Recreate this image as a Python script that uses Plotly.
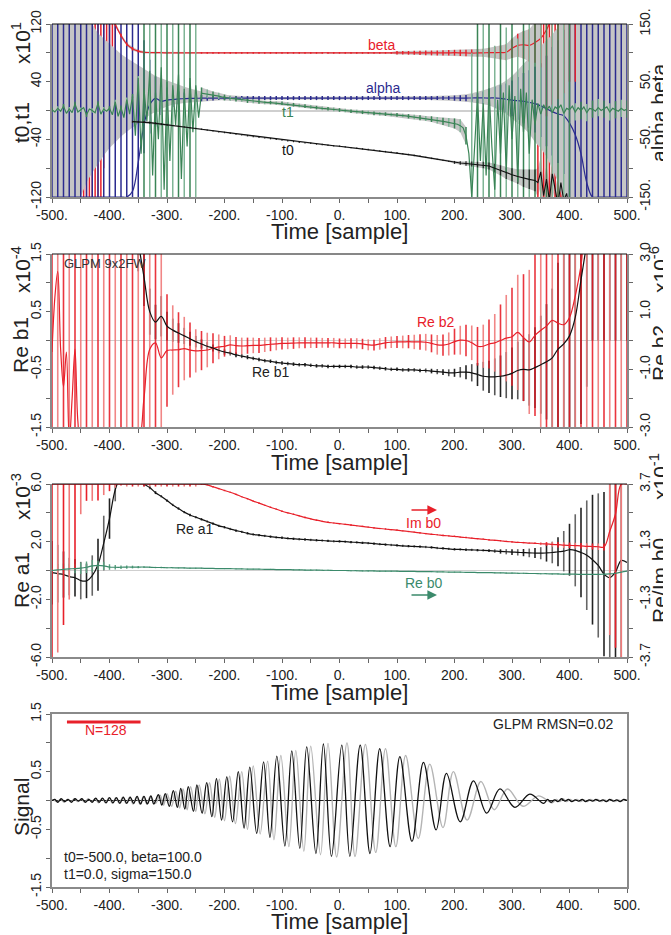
import plotly.graph_objects as go

# The page body adds an 8px margin, so the figure is laid out in screen pixels minus that offset.
SCREEN_W, SCREEN_H = 671, 935
OFF = 8
FW, FH = SCREEN_W - OFF, SCREEN_H - OFF
FONT = "Liberation Sans, Arial, Helvetica, sans-serif"
RED = "#e8202a"; RED_L = "#f07a7a"; BLUE = "#2b2b8f"; GREEN = "#3a8456"; GREEN_L = "#7fb596"
TEAL = "#3b8a6b"; BAND = "#c6c6c6"; AXIS = "#8a8a8a"; ZERO = "#cfcfcf"

# ---------------- axes / ticks ----------------
XTICK_VALS = [-500,-450,-400,-350,-300,-250,-200,-150,-100,-50,0,50,100,150,200,250,300,350,400,450,500]
XTICK_TEXT = ['-500.','','-400.','','-300.','','-200.','','-100.','','0.','','100.','','200.','','300.','','400.','','500.']
P1_L_TICKS = [-120,-80,-40,0,40,80,120];   P1_L_TEXT = ['-120','','-40','','40','','120']
P1_R_TICKS = [-150,-100,-50,0,50,100,150]; P1_R_TEXT = ['-150.','','-50.','','50.','','150.']
P2_L_TICKS = [-1.5,-1,-0.5,0,0.5,1,1.5];   P2_L_TEXT = ['-1.5','','-0.5','','0.5','','1.5']
P2_R_TICKS = [-3,-2,-1,0,1,2,3];           P2_R_TEXT = ['-3.0','','-1.0','','1.0','','3.0']
P3_L_TICKS = [-6,-4,-2,0,2,4,6];           P3_L_TEXT = ['-6.0','','-2.0','','2.0','','6.0']
P3_R_TICKS = [-3.75,-2.5,-1.25,0,1.25,2.5,3.75]; P3_R_TEXT = ['-3.7','','-1.3','','1.3','','3.7']
P4_TICKS = [-1.5,-1,-0.5,0,0.5,1,1.5];     P4_TEXT = ['-1.5','','-0.5','','0.5','','1.5']

T10 = list(range(-500, 501, 10))
T5 = list(range(-500, 501, 5))

# ---------------- Panel 1 : t0,t1 (left, x10^1) ; alpha,beta (right) ----------------
ALPHA = [-150,-150,-150,-150,-150,-150,-150,-150,-150,-150,-150,-150,-150,-150,
         -140,-90,-25,10,21,16,18,19,20,20.5,
         21.0,21.2,21.3,21.4,21.5,21.5,21.6,21.6,21.5,21.5,
         21.5,21.4,21.4,21.5,21.5,21.5,21.4,21.4,21.4,21.5,
         21.5,21.5,21.4,21.4,21.4,21.4,21.5,21.5,21.5,21.5,
         21.4,21.4,21.4,21.5,21.5,21.5,21.5,21.6,21.6,21.6,
         21.5,21.5,21.5,21.6,21.7,21.7,21.7,21.6,21.6,21.7,
         21.8,21.8,
         21.5,22,21,19.5,18,17,16,14,12,8,3,-2,-6,-9,-22,-42,-75,-125,
         -150,-150,-150,-150,-150,-150,-150]
ALPHA_BAR_HI = [200,200,200,200,200,200,200,200,200,200,200,200,200,200,200,
                160,122,88,59,45,40,36,33,31,29,28,27,26,25,24.5,24,
                25,25,25,25,25,25,25,25,25,25,25,25,25,25,25,25,25,25,25,25,
                25,25,25,25,25,25,25,25,25,25,25,25,25,25,25,25,25,25,25,
                26,26.5,27,28,30,33,38,41,44,47,52,58,65,70,76,82,95,110,122,140,
                200,200,200,200,200,200,200,200,200,200,200]
ALPHA_BAR_LO = [-200,-200,-200,-200,-200,-200,-200,-200,-200,-200,-200,-200,-200,-200,-200,
                -150,-74,-40,-28,-8,0,6,10,12,14,15,16,17,17.5,18,18.5,
                18,18,18,18,18,18,18,18,18,18,18,18,18,18,18,18,18,18,18,18,
                18,18,18,18,18,18,18,18,18,18,18,18,18,18,18,18,18,18,18,
                17,16.5,16,15,13,11,8,4,1,-3,-10,-16,-22,-30,-38,-46,-62,-78,-91,-110,
                -200,-200,-200,-200,-200,-200,-200,-200,-200,-200,-200]
ALPHA_BAND_HI = [300,300,300,300,300,200,170,150,134,125,116,107,98,91,85,78,72,66,60,56,
                 52,48,44,41,38,35,33,31,29,28,27,26,25.5,25,24.5,24,
                 23.5,23.5,23.5,23.5,23.5,23.5,23.5,23.5,23.5,23.5,23.5,23.5,23.5,
                 23.5,23.5,23.5,23.5,23.5,23.5,23.5,23.5,23.5,23.5,23.5,23.5,
                 24,24,24,24.5,24.5,25,25,25.5,26,26.5,27,28,30,32,35,38,42,46,52,60,
                 70,82,92,102,112,122,132,145,160,
                 300,300,300,300,300,300,300,300,300,300,300]
ALPHA_BAND_LO = [-300,-300,-300,-300,-160,-150,-125,-108,-92,-78,-65,-55,-45,-37,-30,-22,-15,-8,-2,3,
                 7,10,12,13,14,15,16,16.5,17,17.5,18,18.5,18.5,18.5,18.5,19,
                 19.5,19.5,19.5,19.5,19.5,19.5,19.5,19.5,19.5,19.5,19.5,19.5,19.5,
                 19.5,19.5,19.5,19.5,19.5,19.5,19.5,19.5,19.5,19.5,19.5,19.5,
                 19,19,19,18.5,18.5,18,18,17.5,17,16.5,16,15,14,13,11,9,5,0,-6,-14,
                 -22,-30,-40,-55,-65,-80,-100,-125,-160,
                 -300,-300,-300,-300,-300,-300,-300,-300,-300,-300,-300]
BETA = [200,200,200,200,200,200,200,200,200,200,200,
        150,130,115,107,103,101,
        100.5,100.3,100.2,100.0,100.0,100.1,100.0,99.9,100.0,100.0,
        100.0,100.0,99.9,99.9,100.0,100.0,100.0,100.0,100.1,100.0,
        100.0,100.0,100.0,99.9,99.9,100.0,100.0,100.0,100.0,100.0,
        100.1,100.1,100.0,100.0,100.0,100.0,100.0,99.9,100.0,100.0,
        100.0,100.0,100.1,100.0,100.0,100.0,100.0,100.0,99.9,99.8,
        99.8,99.9,100.0,100.2,100.0,99.8,99.6,99.8,100.0,100.2,
        100.4,100.6,
        101,108,113,114,113,118,125,140,160,170,180,
        200,200,200,200,200,200,200,200,200,200,200]
BETA_ERR = [0,0,0,0,0,0,0,0,0,0,0,
            3,3,3,3,2.5,2,
            1.5,1.5,1.5,1.5,1.5,1.5,1.5,1.5,1.5,1.5,
            1.5,1.5,1.5,1.5,1.5,1.5,1.5,1.5,1.5,1.5,
            1.5,1.5,1.5,1.5,1.5,1.5,1.5,1.5,1.5,1.5,
            1.5,1.5,1.5,1.5,1.5,1.5,1.5,1.5,1.5,1.5,
            1.5,1.5,1.5,
            3,3,3.2,3.4,3.6,4,4.2,4.4,4.6,4.8,5,5.3,5.6,6,6.5,7,8.5,10,12,14,17,20,24,28,35,50,
            150,150,150,150,150,150,0,0,0,0,0,0,0,0,0]
BETA_X_EXTRA = [-445,-440,-435,-430,-425,-420,-415,-410,-405,-400,-395,-390,
                345,350,355,360,365,370,375,380,385,390,395,400,405,410]
BETA_LO_EXTRA = [-200,-200,-200,-200,-200,-200,-200,-100,-40,20,60,90,
                 -200,-200,-200,-200,-200,-200,-200,-200,-200,-200,-200,-200,-200,-200]
BETA_HI_EXTRA = [200,200,200,200,200,200,200,200,200,200,200,200,
                 200,200,200,200,200,200,200,200,200,200,200,200,200,200]

T1 = ([1,-2,3,-1,6,-4,2,-3,9,-2,1,4,-6,2,0,-3,10,-5,2,-1] +
      [3,-6,12,-8,4,-10,15,-5] +
      [20,-35,45,-60,30,-15,55,-90,25,-40,60,-110,40,-70,35,-20,50,-95,30,-50,45,-30,35,-10] +
      [24,23.5,23,22.3,21.5,20.8,20,19,18,17.5,17,16.5,16,15.5,15,14,13.5,13.2,13,12.5,
       12,11.5,11,11,11,10.5,10,10,10,9.5,9,8.5,8,7.5,7,6.5,6,5.5,5,4.5,4,3.5,3,2.7,2.5,2,1.5,1] +
      [0.7,0.3,0,-0.5,-1,-1.2,-1.5,-2,-2.5,-2.8,-3,-3.5,-4,-4.2,-4.5,-4.8,-5,-5.2,-5.5,-5.8,
       -6,-6.5,-7,-7.5,-8,-8.5,-9,-9.5,-10,-10.5,-11,-11.5,-12,-12.8,-13.5,-14.2,-15,-15.8,-16.5,-17.2,
       -18,-19,-21,-24,-35,-60] +
      [-120,-40,20,-70,10,-90,30,-50,-110,15,-60,25,-85,35,-40,20,-100,30,-30,25,
       -60,15,-20,10,-5,8,0,6,-3,5,2,8,-4,3,1,6,-2,4,0,5,-3,3,2,-1,4,0,2,5,-2,3,1,-1,3,0,2])
T1_ERR = ([3,3,3,3,3,3,3,3,3,3,3,3,3,3,3,3] +
          [200,200,200,200,200,200,200,200,200,200] +
          [8,6,5,4.5,4,3.5,3.5,3,3,3] +
          [2.5,2.5,2.5,2.5,2.5,2.5,2.5,2.5,2.5,2.5,2.5,2.5,2.5,2.5] +
          [2.5,2.5,2.5,2.5,2.5,2.5,2.5,2.5,2.5,2.5,2.5] +
          [2.5,3,3,3.5,3.5,4,4.5,5,6,7,9,12] +
          [200,200,200,200,200,200,200,200,200,200,200,200,200,200,200,200,200,200] +
          [12,12,12,12,12,12,12,12,12,12])
T0_T = list(range(-360, 341, 10)) + list(range(345, 421, 5))
T0 = [-15.5,-15.6,-16,-16.8,-17.8,-19,-20,-21,-22,-23,
      -24,-25,-26,-27.2,-28.3,-29.4,-30.5,-31.6,-32.7,-33.8,
      -34.9,-36,-37,-38,-39,-40,-41,-42,-43,-44,
      -44.8,-45.5,-46.5,-47.3,-48.2,-49,-49.5,-50.5,-51.5,-52.3,
      -53.2,-54,-55,-56,-57,-58,-58.5,-59.8,-61,-62.3,
      -63.6,-65,-66.4,-67.8,-69.2,-70.6,-72,-72.8,-73.5,-74.2,
      -75,-75.6,-77,-80,-83,-87,-89,-91.5,-94,-95.5,
      -97,
      -100,-85,-118,-95,-125,-88,-110,-130,-100,-125,-115,-140,-120,-150,-130,-160]
T0_ERR = [1.5,1.5,1.5,1.5,1.5,1.5,1.5,
          1,1,1,1,1,1,1,1,1,1,
          1,1,1,1,1,1,1,1,1,1,
          1,1,1,1,1,1,1,1,1,1,
          1,1,1,1,1,1,1,1,1,1,
          1,1,1,1,1,1,1,1,1,
          2,2.5,3,3.5,4,4.5,5,6,7,8,9,10,12,13.5,15,
          20,20,20,20,20,20,20,20,20,20,20,20,20,20,20,20]

# ---------------- Panel 2 : Re b1 (left, x10^-4) ; Re b2 (right, x10^-6) ----------------
RB1 = [None,None,None,None,None,None,None,None,None,None,None,None,None,None,None,
       1.7,1.1,0.5,0.32,0.42,0.25,0.18,0.13,0.08,0.03,
       -0.02,-0.06,-0.1,-0.13,-0.17,-0.2,-0.22,-0.25,-0.27,-0.29,
       -0.31,-0.33,-0.35,-0.36,-0.38,-0.39,-0.4,-0.41,-0.42,-0.42,
       -0.43,-0.44,-0.44,-0.45,-0.45,-0.45,-0.45,-0.45,-0.46,-0.46,
       -0.46,-0.47,-0.48,-0.49,-0.5,-0.5,-0.51,-0.51,-0.51,-0.52,
       -0.52,-0.53,-0.54,-0.55,-0.56,-0.56,-0.55,-0.55,-0.56,-0.59,
       -0.62,-0.63,-0.63,-0.62,-0.6,-0.57,-0.52,-0.5,-0.51,-0.47,
       -0.42,-0.37,-0.3,-0.15,-0.06,0.08,0.4,1.05,1.7,2.5,
       2.5,2.5,2.5,2.5,2.5,2.5]
RB1_ERR = [None,None,None,None,None,None,None,None,None,None,None,None,None,None,None,
           0.5,0.5,0.4,0.3,0.35,0.25,0.2,0.17,0.14,0.12,
           0.1,0.08,0.07,0.06,0.05,0.045,0.04,0.04,0.035,0.035,
           0.03,0.03,0.03,0.03,0.03,0.03,0.03,0.03,0.03,0.03,
           0.03,0.03,0.03,0.03,0.03,0.03,0.03,0.03,0.03,0.03,
           0.03,0.03,0.03,0.03,0.03,0.03,0.03,0.03,0.03,0.03,
           0.035,0.04,0.045,0.05,0.06,0.07,0.09,0.12,0.15,0.2,
           0.25,0.28,0.32,0.36,0.4,0.45,0.5,0.55,0.62,0.7,
           0.85,1.0,1.2,1.5,2.5,2.5,2.5,2.5,2.5,2.5,
           2.5,2.5,2.5,2.5,2.5,2.5]
RB2_T = [-500,-495,-490,-485,-480,-475,-470,-465,-460,-455,-450] + list(range(-440, 501, 10))
RB2 = ([-0.4,1.5,2.4,-0.3,-1.6,-0.4,-3.5,-2.0,-0.3,-2.8,-3.5] +
       [-3.5,-3.5,-3.5,-3.5,-3.5,-3.5,-3.5,-3.5,-3.5,-3.5] +
       [-2.0,-0.3,-0.08,-0.6,-0.35,-0.33,-0.32,-0.28,-0.33,-0.36,
        -0.35,-0.33,-0.27,-0.22,-0.2,-0.15,-0.18,-0.19,-0.18,-0.17,
        -0.17,-0.15,-0.13,-0.12,-0.1,-0.1,-0.09,-0.08,-0.08,-0.08,
        -0.08,-0.08,-0.08,-0.08] +
       [-0.1,-0.1,-0.1,-0.1,-0.12,-0.15,-0.16,-0.12,-0.08,-0.06,
        -0.05,-0.05,-0.04,-0.05,-0.05,-0.06,-0.1,-0.15,-0.16,-0.12,
        -0.04,0.01,0.0,-0.08,-0.2,-0.2,-0.12,-0.08,0.0,0.08,
        0.13,0.28,0.1,-0.05,0.18,0.35,0.5,0.7,0.6,0.55,
        0.8,1.55,2.6] +
       [4,4,4,4,4,4,4,4])
RB2_ERR = ([10,10,10,10,10,10,10,10,10,10,10,10,10,10,10,10,10,10,10,10] +
           [1.95,1.55,1.3,1.1,0.95,0.75,0.68,0.6,0.52,0.43,
            0.36,0.33,0.3,0.29,0.28,0.27,0.26,0.25,0.24,0.22,
            0.21,0.2,0.2,0.19,0.19,0.18,0.18,0.17,0.17,0.17,
            0.17,0.17,0.18,0.18,0.18,0.19,0.19,0.2,0.2,0.2,
            0.21,0.22,0.23,0.25,0.27,0.29,0.31,0.34,0.37,0.4,
            0.45,0.5,0.55,0.6,0.67,0.75,0.85,1.0,1.25,1.5,
            1.7,2.0,2.2,2.5,2.8] +
           [10,10,10,10,10,10,10,10,10,10,10,10,10,10,10,10])

# ---------------- Panel 3 : Re a1 (left, x10^-3) ; Re/Im b0 (right, x10^-1) ----------------
RA1 = [-0.15,-0.22,-0.28,-0.42,-0.5,-0.7,-0.72,-0.35,0.4,1.9,
       3.6,5.6,6.5,6.6,6.5,6.25,6.0,5.75,5.4,5.15,
       4.85,4.55,4.3,4.05,3.85,3.7,3.55,3.4,3.25,3.1,
       3.0,2.88,2.77,2.68,2.58,2.5,2.45,2.4,2.35,2.3,
       2.27,2.23,2.2,2.17,2.15,2.12,2.1,2.08,2.05,2.03,
       2.02,2.0,1.97,1.95,1.92,1.9,1.87,1.83,1.8,1.77,
       1.74,1.71,1.69,1.67,1.65,1.63,1.6,1.56,1.53,1.5,
       1.47,1.46,1.44,1.43,1.41,1.4,1.38,1.35,1.32,1.3,
       1.28,1.26,1.24,1.22,1.21,1.2,1.22,1.25,1.3,1.34,
       1.44,1.4,1.25,1.06,0.75,0.35,-0.25,-0.5,-0.1,0.7,
       0.55]
RA1_ERR = [2.2,2.0,1.6,1.3,1.3,1.3,1.2,1.4,1.8,1.9,
           1.4,0.8,0.5,0.35,0.25,0.2,0.15,0.12,0.1,0.08,
           0.08,0.08,0.08,0.08,0.08,0.08,0.08,0.08,0.08,0.08,
           0.08,0.08,0.08,0.08,0.08,0.08,0.08,0.08,0.08,0.08,
           0.08,0.08,0.08,0.08,0.08,0.08,0.08,0.08,0.08,0.08,
           0.08,0.08,0.08,0.08,0.08,0.08,0.08,0.08,0.08,0.08,
           0.08,0.08,0.08,0.08,0.08,0.08,0.08,0.08,0.08,0.08,
           0.08,0.08,0.08,0.08,0.08,0.08,0.1,0.12,0.15,0.18,
           0.2,0.22,0.25,0.3,0.35,0.42,0.6,0.75,1.0,1.4,
           1.8,2.5,3.1,3.8,4.5,5.0,5.7,6.5,7.0,7.5,
           0]
IMB0 = [3.74,3.74,3.74,3.74,3.74,3.74,3.74,3.74,3.74,3.74,3.74,3.74,3.74,3.74,
        3.74,3.74,3.74,3.74,3.74,3.74,3.74,3.74,3.74,3.74,3.74,3.74,3.74,
        3.71,3.63,3.55,3.47,3.39,3.3,3.2,3.11,3.01,2.92,
        2.83,2.74,2.66,2.57,2.5,2.44,2.37,2.3,2.24,2.18,
        2.13,2.09,2.06,2.03,2.0,1.97,1.94,1.91,1.88,1.85,
        1.82,1.8,1.77,1.75,1.72,1.69,1.66,1.63,1.6,1.57,
        1.55,1.52,1.5,1.48,1.45,1.43,1.4,1.38,1.36,1.33,
        1.31,1.29,1.26,1.24,1.22,1.21,1.19,1.18,1.16,1.15,
        1.13,1.12,1.1,1.09,1.08,1.07,1.05,1.04,1.03,1.02,
        1.7,2.45,3.74,3.74]
IMB0_ERR = [8.0,7.3,6.1,5.0,3.7,1.3,0.72,0.72,0.7,0.47,0.3,0.15,0.05,
            0.1,0.1,0.1,0.1,0.1,0.1,0.1,0.1,0.1,0.1,0.1,0.1,0.1,
            0.03,0.03,0.03,0.03,0.03,0.03,0.03,0.03,0.03,0.03,
            0.03,0.03,0.03,0.03,0.03,0.03,0.03,0.03,0.03,0.03,
            0.03,0.03,0.03,0.03,0.03,0.03,0.03,0.03,0.03,0.03,
            0.03,0.03,0.03,0.03,0.03,0.03,0.03,0.03,0.03,0.03,
            0.03,0.03,0.03,0.03,0.03,0.03,0.03,0.03,0.03,0.03,
            0.03,0.03,0.03,0.03,0.03,0.03,0.03,0.03,0.03,
            0.06,0.08,0.1,0.12,0.12,0.12,0.12,0.12,0.13,0.13,0.14,0.15,4.5,5.8,7.8,0]
REB0 = [0.0,0.03,0.05,0.07,0.08,0.1,0.14,0.2,0.22,0.2,
        0.15,0.14,0.14,0.15,0.15,0.15,0.15,0.14,0.13,0.13,
        0.12,0.12,0.11,0.11,0.1,0.1,0.1,0.09,0.09,0.08,
        0.08,0.08,0.07,0.07,0.06,0.06,0.06,0.05,0.05,0.04,
        0.04,0.04,0.03,0.03,0.02,0.02,0.02,0.01,0.01,0.0,
        0.0,0.0,-0.01,-0.01,-0.02,-0.02,-0.02,-0.03,-0.03,-0.03,
        -0.03,-0.04,-0.04,-0.04,-0.05,-0.05,-0.05,-0.06,-0.06,-0.07,
        -0.07,-0.07,-0.08,-0.08,-0.09,-0.09,-0.09,-0.1,-0.1,-0.11,
        -0.11,-0.12,-0.12,-0.13,-0.13,-0.14,-0.14,-0.15,-0.15,-0.16,
        -0.16,-0.16,-0.17,-0.17,-0.17,-0.17,-0.16,-0.15,-0.12,-0.07,
        -0.03]
REB0_ERR = [0.1,0.25,0.25,0.22,0.2,0.25,0.25,0.25,0.2,0.18,
            0.12,0.1,0.08,0.07,0.06,0.05,0.03,0.03,0.03,0.03,
            0.02,0.02,0.02,0.02,0.02,0.02,0.02,0.02,0.02,0.02,
            0.02,0.02,0.02,0.02,0.02,0.02,0.02,0.02,0.02,0.02,
            0.02,0.02,0.02,0.02,0.02,0.02,0.02,0.02,0.02,0.02,
            0.02,0.02,0.02,0.02,0.02,0.02,0.02,0.02,0.02,0.02,
            0.02,0.02,0.02,0.02,0.02,0.02,0.02,0.02,0.02,0.02,
            0.02,0.02,0.02,0.02,0.02,0.02,0.02,0.02,0.02,0.02,
            0.02,0.02,0.02,0.02,0.02,0.02,0.02,0.02,0.02,0.02,
            0.02,0.02,0.02,0.02,0.02,0.02,0.02,0.02,0.02,0.02,
            0.02]

# ---------------- Panel 4 : signal (extrema + noise) ----------------
SIG_BLACK_T = [-500,-495,-490,-484,-478,-472,-466,-460,-454,-448,-442,-436,-430,-424,-418,-412,-406,-400,
               -394,-388,-382,-376,-370,-364,-358,-352,-346,-340,-334,-328,
               -323,-315,-309,-303,-296,-289,-282,-276,-269,-263,-254,-248,-239,-231,-222,-214,-205,-196,-186,-176,
               -166,-156,-144,-132,-121,-109,-95,-83,-69,-57,-41,-28,-14,4,18,36,53,70,88,105,
               126,146,168,186,210,233,256,279,305,331,355,
               362,368,374,380,386,392,398,404,410,416,422,428,434,440,446,452,458,464,470,476,482,488,494,500]
SIG_BLACK_V = [0.0,0.02,-0.03,0.03,-0.02,0.02,-0.03,0.03,-0.01,0.03,-0.03,0.02,-0.03,0.04,-0.03,0.04,-0.04,0.05,
               -0.04,0.05,-0.05,0.06,-0.05,0.06,-0.05,0.07,-0.06,0.07,-0.06,0.08,
               -0.06,0.10,-0.08,0.12,-0.10,0.17,-0.12,0.21,-0.15,0.24,-0.19,0.27,-0.22,0.31,-0.28,0.38,-0.34,0.41,-0.37,0.50,
               -0.48,0.58,-0.57,0.67,-0.64,0.77,-0.79,0.86,-0.83,0.93,-0.92,0.98,-0.97,0.96,-0.97,0.96,-0.92,0.90,-0.80,0.76,
               -0.71,0.66,-0.51,0.47,-0.37,0.34,-0.22,0.20,-0.12,0.11,-0.05,
               0.02,-0.03,0.01,-0.02,0.03,-0.01,0.02,-0.02,0.01,-0.01,0.02,-0.02,0.01,-0.01,0.02,-0.01,0.01,-0.02,0.02,-0.01,0.01,-0.02,0.02,0.0]
SIG_GRAY_T = [-497,-491,-485,-479,-473,-467,-461,-455,-449,-443,-437,-431,-425,-419,-413,-407,-401,-395,-389,-383,
              -377,-371,-365,-359,-353,-347,-341,-335,-329,
              -320,-312,-306,-300,-292,-285,-278,-272,-265,-259,-250,-244,-234,-226,-217,-209,-200,-191,-181,-170,
              -160,-150,-138,-125,-114,-102,-88,-76,-62,-50,-33,-20,-5,13,27,45,63,80,98,115,
              137,157,180,198,222,246,269,292,319,346,370,
              377,383,389,395,401,407,413,419,425,431,437,443,449,455,461,467,473,479,485,491,497]
SIG_GRAY_V = [0.01,-0.02,0.02,-0.03,0.02,-0.02,0.03,-0.02,0.02,-0.03,0.03,-0.02,0.03,-0.04,0.04,-0.04,0.05,-0.05,0.05,-0.05,
              0.06,-0.05,0.06,-0.06,0.06,-0.06,0.07,-0.06,0.07,
              -0.05,0.09,-0.08,0.12,-0.10,0.16,-0.13,0.20,-0.16,0.24,-0.19,0.27,-0.23,0.31,-0.29,0.37,-0.35,0.42,-0.40,0.50,
              -0.50,0.60,-0.58,0.68,-0.68,0.78,-0.80,0.87,-0.88,0.94,-0.94,0.99,-0.98,1.00,-0.97,0.97,-0.90,0.90,-0.80,0.78,
              -0.66,0.63,-0.47,0.50,-0.34,0.33,-0.16,0.20,-0.10,0.08,-0.04,
              0.02,-0.02,0.03,-0.02,0.02,-0.01,0.02,-0.02,0.01,-0.02,0.02,-0.01,0.02,-0.02,0.01,-0.01,0.02,-0.02,0.01,-0.01,0.02]
N_WINDOW = 128
N_START = -474
N_LEVEL = 1.36

# ---------------- consistency checks (report all at once) ----------------
_errs = []
def check(name, a, b):
    if len(a) != len(b):
        _errs.append(f"{name}: {len(a)} vs {len(b)}")
for nm, arr in [("ALPHA", ALPHA), ("ALPHA_BAR_HI", ALPHA_BAR_HI), ("ALPHA_BAR_LO", ALPHA_BAR_LO),
                ("ALPHA_BAND_HI", ALPHA_BAND_HI), ("ALPHA_BAND_LO", ALPHA_BAND_LO), ("BETA", BETA),
                ("BETA_ERR", BETA_ERR), ("T1_ERR", T1_ERR), ("RB1", RB1), ("RB1_ERR", RB1_ERR),
                ("RB2_ERR", RB2_ERR), ("RA1", RA1), ("RA1_ERR", RA1_ERR), ("IMB0", IMB0),
                ("IMB0_ERR", IMB0_ERR), ("REB0", REB0), ("REB0_ERR", REB0_ERR)]:
    check(nm, T10, arr)
check("T1", T5, T1); check("T0", T0_T, T0); check("T0_ERR", T0_T, T0_ERR); check("RB2", RB2_T, RB2)
check("SB", SIG_BLACK_T, SIG_BLACK_V); check("SG", SIG_GRAY_T, SIG_GRAY_V)
check("BX", BETA_X_EXTRA, BETA_LO_EXTRA); check("BXH", BETA_X_EXTRA, BETA_HI_EXTRA)
if _errs:
    raise ValueError("; ".join(_errs))

# ---------------- helpers ----------------
def px(x):   # screen px -> paper x
    return (x - OFF) / FW

def py(y):   # screen px -> paper y
    return 1 - (y - OFF) / FH

def segs(xs, lo, hi):
    X, Y = [], []
    for x, l, h in zip(xs, lo, hi):
        if l is None or h is None:
            continue
        X += [x, x, None]; Y += [l, h, None]
    return X, Y

def pm(vals, errs, sign):
    return [None if (v is None or e is None) else v + sign * e for v, e in zip(vals, errs)]

def bar_traces(xs, lo, hi, colors, width, xa, ya, opacity=1.0):
    out = []
    n = len(colors)
    for k, c in enumerate(colors):
        idx = [i for i in range(len(xs)) if i % n == k]
        X, Y = segs([xs[i] for i in idx], [lo[i] for i in idx], [hi[i] for i in idx])
        out.append(go.Scatter(x=X, y=Y, mode="lines", line=dict(color=c, width=width),
                              opacity=opacity, xaxis=xa, yaxis=ya, hoverinfo="skip", showlegend=False))
    return out

def band_trace(xs, lo, hi, xa, ya, color=BAND):
    pts = [(x, l, h) for x, l, h in zip(xs, lo, hi) if l is not None and h is not None]
    X = [p[0] for p in pts] + [p[0] for p in pts[::-1]]
    Y = [p[2] for p in pts] + [p[1] for p in pts[::-1]]
    return go.Scatter(x=X, y=Y, fill="toself", fillcolor=color, line=dict(width=0), mode="lines",
                      xaxis=xa, yaxis=ya, hoverinfo="skip", showlegend=False)

def line_trace(xs, ys, color, xa, ya, width=1.1, shape="linear"):
    return go.Scatter(x=xs, y=ys, mode="lines", line=dict(color=color, width=width, shape=shape),
                      connectgaps=False, xaxis=xa, yaxis=ya, hoverinfo="skip", showlegend=False)

traces = []

# ---- Panel 1 ----
t1_10 = [T1[2 * i] for i in range(len(T10))]
band_idx = [i for i, t in enumerate(T10) if -240 <= t <= 220]
traces.append(band_trace([T10[i] for i in band_idx], [t1_10[i] - T1_ERR[i] for i in band_idx],
                         [t1_10[i] + T1_ERR[i] for i in band_idx], "x", "y"))
traces.append(band_trace(T0_T, pm(T0, T0_ERR, -1), pm(T0, T0_ERR, 1), "x", "y"))
traces += bar_traces(BETA_X_EXTRA, BETA_LO_EXTRA, BETA_HI_EXTRA, [RED, "#f04848"], 1.5, "x", "y2")
traces.append(band_trace(T10, ALPHA_BAND_LO, ALPHA_BAND_HI, "x", "y2"))
beta_band_lo = [b - e if 0 < e < 100 else None for b, e in zip(BETA, BETA_ERR)]
beta_band_hi = [b + e if 0 < e < 100 else None for b, e in zip(BETA, BETA_ERR)]
traces.append(band_trace(T10, beta_band_lo, beta_band_hi, "x", "y2"))
traces += bar_traces(T10, ALPHA_BAR_LO, ALPHA_BAR_HI, [BLUE], 1.5, "x", "y2")
traces += bar_traces(T10, [l if e > 0 else None for l, e in zip(pm(BETA, BETA_ERR, -1), BETA_ERR)],
                     pm(BETA, BETA_ERR, 1), [RED], 1.4, "x", "y2")
traces.append(line_trace(T10, ALPHA, BLUE, "x", "y2", 1.2, "spline"))
traces.append(line_trace(T10, BETA, RED, "x", "y2", 1.2, "spline"))
traces += bar_traces(T10, pm(t1_10, T1_ERR, -1), pm(t1_10, T1_ERR, 1), [GREEN, GREEN_L], 1.5, "x", "y3")
traces += bar_traces(T0_T[:71], pm(T0[:71], T0_ERR[:71], -1), pm(T0[:71], T0_ERR[:71], 1), ["#222"], 1.2, "x", "y3")
traces.append(line_trace(T5, T1, GREEN, "x", "y3", 1.2))
traces.append(line_trace(T0_T, T0, "#111", "x", "y3", 1.1))

# ---- Panel 2 ----
rb2_map = dict(zip(RB2_T, RB2))
rb2_10 = [rb2_map[t] for t in T10]
traces += bar_traces(T10, pm(RB1, RB1_ERR, -1), pm(RB1, RB1_ERR, 1), ["#222", "#555"], 1.6, "x2", "y4")
traces += bar_traces(T10, pm(rb2_10, RB2_ERR, -1), pm(rb2_10, RB2_ERR, 1), [RED, RED_L], 1.6, "x2", "y5", 0.9)
traces.append(line_trace(RB2_T, RB2, RED, "x2", "y5", 1.2, "spline"))
traces.append(line_trace(T10, RB1, "#111", "x2", "y9", 1.2, "spline"))

# ---- Panel 3 ----
traces += bar_traces(T10, pm(RA1, RA1_ERR, -1), pm(RA1, RA1_ERR, 1), ["#222", "#666"], 1.6, "x3", "y6")
traces.append(line_trace(T10, RA1, "#111", "x3", "y6", 1.2, "spline"))
traces += bar_traces(T10, pm(REB0, REB0_ERR, -1), pm(REB0, REB0_ERR, 1), ["#5aa07f"], 1.4, "x3", "y7")
traces += bar_traces(T10, [l if e > 0 else None for l, e in zip(pm(IMB0, IMB0_ERR, -1), IMB0_ERR)],
                     pm(IMB0, IMB0_ERR, 1), [RED, RED_L], 1.6, "x3", "y7")
traces.append(line_trace(T10, REB0, TEAL, "x3", "y7", 1.2, "spline"))
traces.append(line_trace(T10, IMB0, RED, "x3", "y7", 1.2, "spline"))

# ---- Panel 4 ----
traces.append(line_trace(SIG_GRAY_T, SIG_GRAY_V, "#b4b4b4", "x4", "y8", 1.4, "spline"))
traces.append(line_trace(SIG_BLACK_T, SIG_BLACK_V, "#111", "x4", "y8", 1.3, "spline"))

fig = go.Figure(traces)

# ---------------- layout ----------------
P_TOP = [24, 254, 484, 714]
P_BOT = [197, 427, 657, 887]
def dom(k):
    return [py(P_BOT[k]), py(P_TOP[k])]

common_x = dict(range=[-500, 500], domain=[px(52), px(627)], tickmode="array", tickvals=XTICK_VALS,
                ticktext=XTICK_TEXT, ticks="outside", ticklen=4, tickwidth=1, tickcolor="#666",
                showline=True, linecolor=AXIS, linewidth=1.5, showgrid=False, zeroline=False,
                tickfont=dict(size=14, color="#222", family=FONT), fixedrange=True, automargin=False)

def yax(rng, tv, tt, side="left", domain=None, overlaying=None, anchor=None, zero=None, visible=True, mirror=False):
    d = dict(range=rng, tickmode="array", tickvals=tv, ticktext=tt, tickangle=-90, ticks="outside",
             ticklen=4, tickwidth=1, tickcolor="#666", showline=True, linecolor=AXIS, linewidth=1.5,
             showgrid=False, tickfont=dict(size=14, color="#222", family=FONT), fixedrange=True,
             side=side, visible=visible, mirror=mirror, automargin=False)
    if domain is not None:
        d["domain"] = domain
    if overlaying:
        d["overlaying"] = overlaying
    if anchor:
        d["anchor"] = anchor
    if zero:
        d.update(zeroline=True, zerolinecolor=zero[0], zerolinewidth=zero[1])
    else:
        d["zeroline"] = False
    return d

fig.update_layout(
    template="none",
    width=FW, height=FH, margin=dict(l=0, r=0, t=0, b=0, pad=0), autosize=False,
    paper_bgcolor="white", plot_bgcolor="white", showlegend=False,
    font=dict(family=FONT, color="#222"),
    xaxis=dict(common_x, anchor="y"),
    xaxis2=dict(common_x, anchor="y4"),
    xaxis3=dict(common_x, anchor="y6"),
    xaxis4=dict(common_x, anchor="y8", mirror=True),
    yaxis=yax([-120, 120], P1_L_TICKS, P1_L_TEXT, domain=dom(0), anchor="x", zero=(ZERO, 2)),
    yaxis2=yax([-150, 150], P1_R_TICKS, P1_R_TEXT, side="right", overlaying="y", anchor="x"),
    yaxis3=yax([-120, 120], P1_L_TICKS, P1_L_TEXT, overlaying="y", anchor="x", visible=False),
    yaxis4=yax([-1.5, 1.5], P2_L_TICKS, P2_L_TEXT, domain=dom(1), anchor="x2", zero=(ZERO, 1.2)),
    yaxis5=yax([-3, 3], P2_R_TICKS, P2_R_TEXT, side="right", overlaying="y4", anchor="x2"),
    yaxis9=yax([-1.5, 1.5], P2_L_TICKS, P2_L_TEXT, overlaying="y4", anchor="x2", visible=False),
    yaxis6=yax([-6, 6], P3_L_TICKS, P3_L_TEXT, domain=dom(2), anchor="x3", zero=(ZERO, 1.2)),
    yaxis7=yax([-3.75, 3.75], P3_R_TICKS, P3_R_TEXT, side="right", overlaying="y6", anchor="x3"),
    yaxis8=yax([-1.5, 1.5], P4_TICKS, P4_TEXT, domain=dom(3), anchor="x4", zero=("#222", 1), mirror=True),
)

shapes = []
for k in range(3):
    yy = py(P_TOP[k])
    shapes.append(dict(type="line", xref="paper", yref="paper", x0=px(52), x1=px(627), y0=yy, y1=yy,
                       line=dict(color="#111", width=1.2)))
shapes.append(dict(type="line", xref="x4", yref="y8", x0=N_START, x1=N_START + N_WINDOW,
                   y0=N_LEVEL, y1=N_LEVEL, line=dict(color=RED, width=3)))
fig.update_layout(shapes=shapes)

def ann(text, x, y, size=14, color="#222", angle=0, xanchor="center"):
    return dict(text=text, x=px(x), y=py(y), xref="paper", yref="paper", showarrow=False,
                font=dict(size=size, color=color, family=FONT), textangle=angle,
                xanchor=xanchor, yanchor="middle")

anns = []
for yy in [232, 462, 692, 921]:
    anns.append(ann("Time [sample]", 339.5, yy, 22))
TS = 21
LX = 21
anns += [
    ann("t0,t1", LX, 123, TS, angle=-90), ann("x10<sup>1</sup>", LX, 43, TS, angle=-90),
    ann("alpha,beta", 659, 113, TS, angle=-90),
    ann("Re b1", LX, 345, TS, angle=-90), ann("x10<sup>-4</sup>", LX, 270, TS, angle=-90),
    ann("Re b2", 659, 353, TS, angle=-90), ann("x10<sup>-6</sup>", 659, 270, TS, angle=-90),
    ann("Re a1", LX, 580, TS, angle=-90), ann("x10<sup>-3</sup>", LX, 497, TS, angle=-90),
    ann("Re/Im b0", 659, 581, TS, angle=-90), ann("x10<sup>-1</sup>", 659, 477, TS, angle=-90),
    ann("Signal", LX, 807, TS, angle=-90),
    ann("beta", 381, 45, 14, RED), ann("alpha", 383, 88, 14, BLUE),
    ann("t1", 288, 112, 14, GREEN), ann("t0", 288, 150, 14, "#111"),
    ann("GLPM 9x2FW", 62, 264, 13, "#333", xanchor="left"),
    ann("Re b1", 271, 372, 14, "#222"), ann("Re b2", 436, 322, 14, RED),
    ann("Re a1", 195, 529, 14, "#222"), ann("Im b0", 423, 523, 14, RED), ann("Re b0", 424, 583, 14, TEAL),
    ann("N=128", 106, 730, 14, RED),
    ann("GLPM RMSN=0.02", 615, 724, 14, "#222", xanchor="right"),
    ann("t0=-500.0, beta=100.0", 62, 857, 14, "#222", xanchor="left"),
    ann("t1=0.0, sigma=150.0", 62, 874, 14, "#222", xanchor="left"),
]
for yy, col in [(510, RED), (595, TEAL)]:
    anns.append(dict(text="", x=px(437), y=py(yy), xref="paper", yref="paper", showarrow=True,
                     ax=-27, ay=0, arrowhead=2, arrowsize=1.2, arrowwidth=1.6, arrowcolor=col))
fig.update_layout(annotations=anns)

fig.write_html("out.html")
